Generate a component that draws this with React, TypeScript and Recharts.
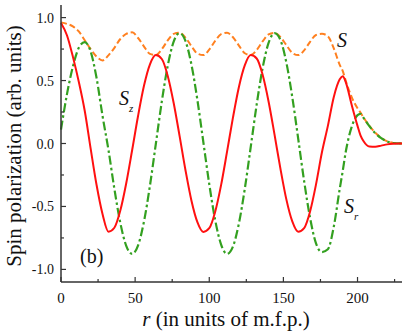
import { LineChart, Line, XAxis, YAxis } from 'recharts';

// r in units of m.f.p.
const rValues = [
  0, 4, 8, 12, 16, 20, 24, 28, 32, 36, 40, 44, 48, 52, 56, 60, 64, 68, 72, 76,
  80, 84, 88, 92, 96, 100, 104, 108, 112, 116, 120, 124, 128, 132, 136, 140, 144,
  148, 152, 156, 160, 164, 168, 172, 176, 180, 184, 188, 190, 192, 196, 200, 202,
  204, 208, 212, 216, 220, 224, 228, 230,
];

// S_z (red, solid)
const szValues = [
  0.957, 0.86, 0.69, 0.49, 0.26, -0.04, -0.33, -0.56, -0.7, -0.669, -0.533, -0.316,
  -0.052, 0.22, 0.46, 0.629, 0.703, 0.671, 0.537, 0.322, 0.059, -0.214, -0.454,
  -0.625, -0.702, -0.673, -0.542, -0.329, -0.065, 0.207, 0.449, 0.622, 0.702, 0.675,
  0.546, 0.334, 0.072, -0.2, -0.444, -0.619, -0.701, -0.672, -0.54, -0.325, -0.07,
  0.14, 0.37, 0.51, 0.534, 0.49, 0.31, 0.14, 0.065, 0.02, -0.024, -0.026, -0.017,
  -0.007, -0.002, 0, 0,
];

// S_r (green, dash-dot)
const srValues = [
  0.11, 0.39, 0.61, 0.76, 0.805, 0.73, 0.52, 0.22, -0.05, -0.36, -0.63, -0.813,
  -0.877, -0.809, -0.618, -0.334, 0, 0.334, 0.618, 0.809, 0.877, 0.813, 0.626, 0.345,
  0.012, -0.323, -0.609, -0.803, -0.877, -0.818, -0.635, -0.357, -0.025, 0.311, 0.6,
  0.799, 0.876, 0.822, 0.643, 0.368, 0.037, -0.3, -0.591, -0.794, -0.862, -0.84,
  -0.66, -0.36, -0.22, -0.07, 0.13, 0.225, 0.236, 0.205, 0.138, 0.082, 0.042, 0.016,
  0.004, 0.001, 0,
];

// S (orange, dashed)
const sValues = [
  0.962, 0.95, 0.93, 0.89, 0.82, 0.75, 0.69, 0.66, 0.7, 0.76, 0.83, 0.87, 0.883,
  0.838, 0.77, 0.712, 0.703, 0.749, 0.819, 0.871, 0.879, 0.841, 0.773, 0.714, 0.702,
  0.746, 0.815, 0.868, 0.879, 0.844, 0.778, 0.717, 0.702, 0.743, 0.811, 0.866, 0.879,
  0.846, 0.781, 0.72, 0.702, 0.74, 0.808, 0.862, 0.871, 0.852, 0.755, 0.625, 0.577,
  0.5, 0.37, 0.28, 0.245, 0.207, 0.14, 0.086, 0.045, 0.017, 0.005, 0.001, 0,
];

const xTicks = [0, 25, 50, 75, 100, 125, 150, 175, 200, 225];
const yTicks = [-1, -0.75, -0.5, -0.25, 0, 0.25, 0.5, 0.75, 1];

const chartData = rValues.map((r, i) => ({
  r,
  sz: szValues[i],
  sr: srValues[i],
  s: sValues[i],
}));

const AXIS = '#333';
const FONT = "'Liberation Serif', 'DejaVu Serif', serif";
const serif = { fontFamily: FONT };

const majorX = (v: number) => v % 50 === 0;
const majorY = (v: number) => Math.abs(v * 2 - Math.round(v * 2)) < 1e-6;

function BottomTick({ x, y, payload }: any) {
  const major = majorX(payload.value);
  return (
    <g>
      <line x1={x} y1={y} x2={x} y2={y - (major ? 5 : 3)} stroke={AXIS} strokeWidth={1.2} />
      {major && (
        <text x={x} y={y + 21} textAnchor="middle" style={serif} fontSize={15} fill="#111">
          {payload.value}
        </text>
      )}
    </g>
  );
}

function TopTick({ x, y, payload }: any) {
  const major = majorX(payload.value);
  return <line x1={x} y1={y} x2={x} y2={y + (major ? 5 : 3)} stroke={AXIS} strokeWidth={1.2} />;
}

function LeftTick({ x, y, payload }: any) {
  const v = payload.value;
  const major = majorY(v);
  return (
    <g>
      <line x1={x} y1={y} x2={x + (major ? 5 : 3)} y2={y} stroke={AXIS} strokeWidth={1.2} />
      {major && (
        <text x={x - 7} y={y + 5} textAnchor="end" style={serif} fontSize={14} fill="#111">
          {v.toFixed(1)}
        </text>
      )}
    </g>
  );
}

function RightTick({ x, y, payload }: any) {
  const major = majorY(payload.value);
  return <line x1={x} y1={y} x2={x - (major ? 5 : 3)} y2={y} stroke={AXIS} strokeWidth={1.2} />;
}

export default function App() {
  return (
    <div style={{ position: 'absolute', left: 0, top: 0, width: 409, height: 335, background: '#fff' }}>
      <LineChart width={409} height={335} data={chartData} margin={{ top: 5, right: 7, bottom: 0, left: 0 }}>
        <XAxis
          xAxisId="b"
          dataKey="r"
          type="number"
          domain={[0, 230]}
          ticks={xTicks}
          interval={0}
          height={53}
          tickSize={0}
          tickMargin={0}
          tickLine={false}
          axisLine={{ stroke: AXIS, strokeWidth: 1.5 }}
          tick={<BottomTick />}
        />
        <XAxis
          xAxisId="t"
          orientation="top"
          dataKey="r"
          type="number"
          domain={[0, 230]}
          ticks={xTicks}
          interval={0}
          height={0}
          tickSize={0}
          tickMargin={0}
          tickLine={false}
          axisLine={{ stroke: AXIS, strokeWidth: 1.5 }}
          tick={<TopTick />}
        />
        <YAxis
          yAxisId="l"
          type="number"
          domain={[-1.1, 1.1]}
          ticks={yTicks}
          interval={0}
          width={61}
          tickSize={0}
          tickMargin={0}
          tickLine={false}
          axisLine={{ stroke: AXIS, strokeWidth: 1.5 }}
          tick={<LeftTick />}
        />
        <YAxis
          yAxisId="r"
          orientation="right"
          type="number"
          domain={[-1.1, 1.1]}
          ticks={yTicks}
          interval={0}
          width={0}
          tickSize={0}
          tickMargin={0}
          tickLine={false}
          axisLine={{ stroke: AXIS, strokeWidth: 1.5 }}
          tick={<RightTick />}
        />
        <Line
          xAxisId="b"
          yAxisId="l"
          type="monotone"
          dataKey="s"
          stroke="#ff8020"
          strokeWidth={2}
          strokeDasharray="6 3"
          dot={false}
          isAnimationActive={false}
        />
        <Line
          xAxisId="b"
          yAxisId="l"
          type="monotone"
          dataKey="sr"
          stroke="#33a020"
          strokeWidth={2.2}
          strokeDasharray="9 3 2.5 3"
          dot={false}
          isAnimationActive={false}
        />
        <Line
          xAxisId="b"
          yAxisId="l"
          type="monotone"
          dataKey="sz"
          stroke="#ff1010"
          strokeWidth={2}
          dot={false}
          isAnimationActive={false}
        />
      </LineChart>

      <svg
        width={409}
        height={335}
        style={{ position: 'absolute', left: 0, top: 0, pointerEvents: 'none', fontFamily: FONT }}
      >
        <text x={21} y={146} transform="rotate(-90 21 146)" textAnchor="middle" fontSize={21} fill="#111">
          Spin polarization (arb. units)
        </text>
        <text x={226} y={326} textAnchor="middle" fontSize={21} fill="#111">
          <tspan fontStyle="italic">r</tspan> (in units of m.f.p.)
        </text>
        <text x={337} y={47} fontSize={20} fontStyle="italic" fill="#111">S</text>
        <text x={119} y={105} fontSize={20} fontStyle="italic" fill="#111">S</text>
        <text x={129} y={112} fontSize={11} fontStyle="italic" fill="#111">z</text>
        <text x={344} y={213} fontSize={20} fontStyle="italic" fill="#111">S</text>
        <text x={354} y={220} fontSize={11} fontStyle="italic" fill="#111">r</text>
        <text x={80} y={263} fontSize={20} fill="#111">(b)</text>
      </svg>
    </div>
  );
}
